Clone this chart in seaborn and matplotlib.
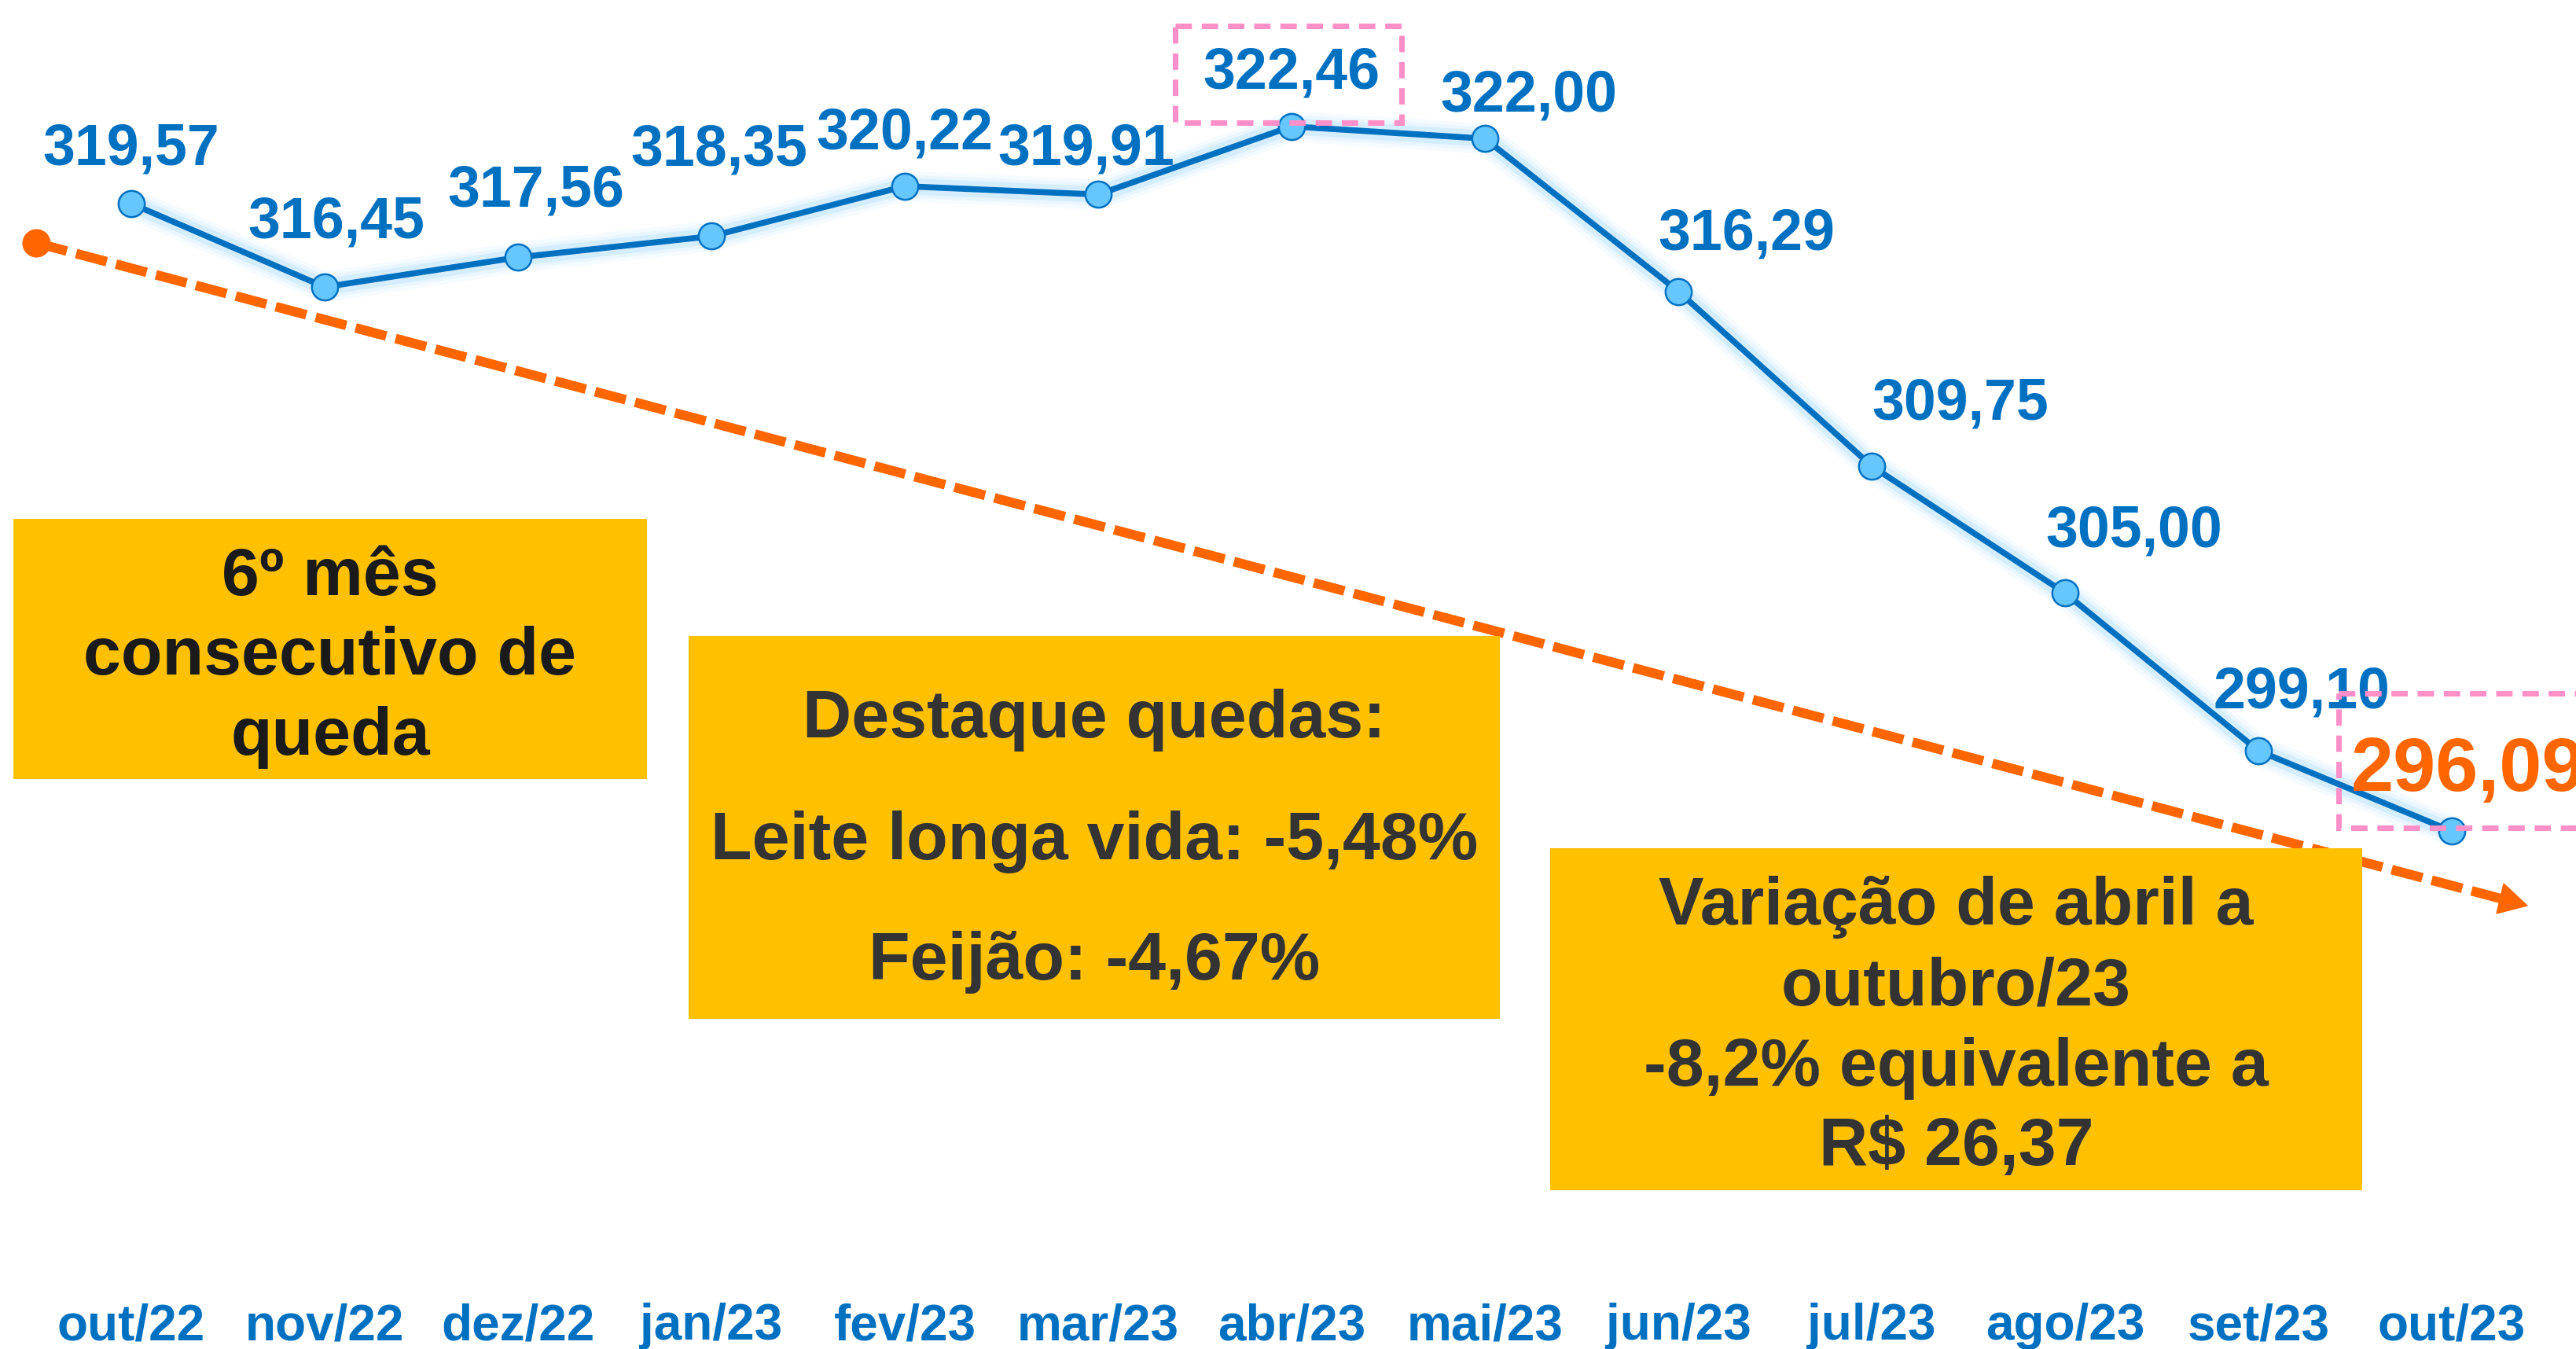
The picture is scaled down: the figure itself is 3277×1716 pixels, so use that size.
import numpy as np
import pandas as pd
import matplotlib
matplotlib.use("Agg")
import matplotlib.pyplot as plt
import matplotlib.transforms as mtransforms
from matplotlib.patches import Rectangle, Polygon
import seaborn as sns

# ---------------- data ----------------
months = ["out/22", "nov/22", "dez/22", "jan/23", "fev/23", "mar/23", "abr/23",
          "mai/23", "jun/23", "jul/23", "ago/23", "set/23", "out/23"]
values = [319.57, 316.45, 317.56, 318.35, 320.22, 319.91, 322.46,
          322.00, 316.29, 309.75, 305.00, 299.10, 296.09]
value_labels = ["319,57", "316,45", "317,56", "318,35", "320,22", "319,91", "322,46",
                "322,00", "316,29", "309,75", "305,00", "299,10", "296,09"]
box_a_lines = ["6º mês", "consecutivo de", "queda"]
box_b_lines = ["Destaque quedas:", "Leite longa vida: -5,48%", "Feijão: -4,67%"]
box_c_lines = ["Variação de abril a", "outubro/23", "-8,2% equivalente a", "R$ 26,37"]

# ---------------- layout ----------------
W, H, DPI = 3277, 1716, 100
BLUE = "#0070C0"
ORANGE = "#FF6600"
PINK = "#FF8FC8"
YELLOW = "#FFC000"

sns.set_theme(style="white")
plt.rcParams["font.family"] = ["Liberation Sans", "DejaVu Sans"]
plt.rcParams["font.weight"] = "bold"

fig = plt.figure(figsize=(W / DPI, H / DPI), dpi=DPI)
fig.patch.set_facecolor("white")
AX_BOTTOM_PX = 1630
ax = fig.add_axes([0, (H - AX_BOTTOM_PX) / H, 1, AX_BOTTOM_PX / H])

# pixel (top-left origin) -> figure transform for decorations
T = mtransforms.Affine2D().scale(1 / W, -1 / H).translate(0, 1) + fig.transFigure

df = pd.DataFrame({"idx": np.arange(len(months)), "value": values, "month": months})

# glow under the line
for lw, a in [(28, 0.08), (21, 0.12), (15, 0.22)]:
    ax.plot(df["idx"], df["value"], color="#8FD6FF", lw=lw, alpha=a,
            solid_capstyle="round", solid_joinstyle="round", zorder=3)

sns.lineplot(data=df, x="idx", y="value", ax=ax, color=BLUE, lw=5.5,
             marker="o", markersize=24, markerfacecolor="#66C7FF",
             markeredgecolor=BLUE, markeredgewidth=1.8, zorder=5)

# axis scaling (pixel-matched)
PX_PER_X = 246.0
X0_PX = 167.0
PX_PER_UNIT = 34.0
ax.set_xlim(-X0_PX / PX_PER_X, (W - X0_PX) / PX_PER_X)
ax.set_ylim(values[0] - (AX_BOTTOM_PX - 259) / PX_PER_UNIT, values[0] + 259 / PX_PER_UNIT)

for s in ax.spines.values():
    s.set_visible(False)
ax.set_yticks([])
ax.set_xticks(df["idx"])
ax.set_xticklabels(months, fontsize=46, fontweight="bold", color=BLUE)
ax.tick_params(axis="x", length=0, pad=19.5)
ax.set_xlabel("")
ax.set_ylabel("")
ax.grid(False)

# value labels (offsets in pixels relative to markers)
label_offsets_px = [(0, -69), (15, -82), (23, -84), (10, -109), (0, -67), (-15, -57),
                    (0, -68), (56, -54), (87, -73), (113, -79), (88, -78), (55, -74)]
for i, (dx, dy) in enumerate(label_offsets_px):
    ax.annotate(value_labels[i], (df["idx"][i], values[i]),
                xytext=(dx * 0.72, -dy * 0.72), textcoords="offset points",
                ha="center", va="center", fontsize=53, fontweight="bold",
                color=BLUE, zorder=7)
ax.annotate(value_labels[-1], (df["idx"].iloc[-1], values[-1]),
            xytext=(-128 * 0.72, 76 * 0.72), textcoords="offset points",
            ha="left", va="center", fontsize=70, fontweight="bold",
            color=ORANGE, zorder=7)

# orange dashed trend arrow
start = (46, 309)
tip = (3215, 1152)
base = (3181, 1143)
ln, = ax.plot([start[0], base[0]], [start[1], base[1]], transform=T, color=ORANGE,
              lw=8.8, zorder=2, solid_capstyle="butt")
ln.set_dashes([3.3, 1.0])
ax.plot([start[0]], [start[1]], transform=T, marker="o", markersize=25,
        color=ORANGE, zorder=2, linestyle="none")
ax.add_patch(Polygon([tip, (3185, 1124), (3176, 1162)], closed=True,
                     transform=T, color=ORANGE, zorder=2))

# pink dashed highlight boxes
for (x0, y0, x1, y1) in [(1495, 33, 1783, 156), (2975, 882, 3300, 1053)]:
    ax.add_patch(Rectangle((x0, y0), x1 - x0, y1 - y0, transform=T, fill=False,
                           edgecolor=PINK, lw=5, linestyle=(0, (3.0, 1.8)),
                           zorder=8, clip_on=False))

# yellow boxes with text
def yellow_box(x0, y0, x1, y1, lines, baselines, color):
    ax.add_patch(Rectangle((x0, y0), x1 - x0, y1 - y0, transform=T,
                           facecolor=YELLOW, edgecolor="none", zorder=4, clip_on=False))
    cx = (x0 + x1) / 2
    for line, b in zip(lines, baselines):
        ax.text(cx, b, line, transform=T, ha="center", va="baseline",
                fontsize=62, fontweight="bold", color=color, zorder=6)

yellow_box(17, 660, 823, 991, box_a_lines, [757, 858, 960], "#1A1A1A")
yellow_box(876, 809, 1908, 1296, box_b_lines, [938, 1093, 1246], "#333333")
yellow_box(1972, 1079, 3005, 1514, box_c_lines, [1176, 1278, 1381, 1482], "#333333")

fig.savefig("out.png", dpi=DPI, facecolor="white")
